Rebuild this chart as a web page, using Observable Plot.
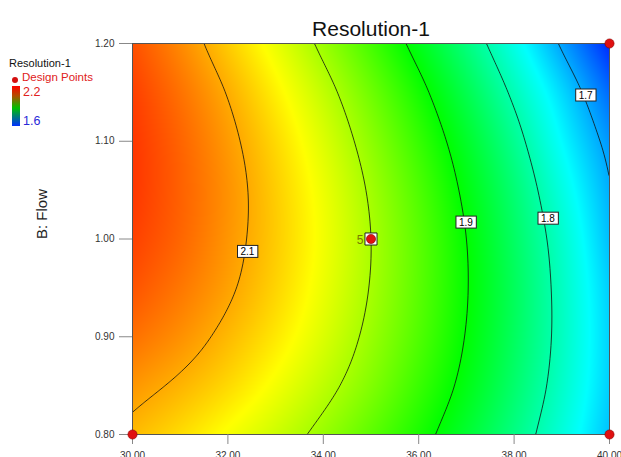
<!DOCTYPE html>
<html><head><meta charset="utf-8">
<script src="https://cdn.jsdelivr.net/npm/d3@7"></script>
<script src="https://cdn.jsdelivr.net/npm/@observablehq/plot@0.6"></script>
<style>
body{margin:0;background:#fff;font-family:"Liberation Sans",Arial,sans-serif;}
#wrap{position:relative;width:621px;height:457px;overflow:hidden;}
#chart{position:absolute;left:0;top:0;}
.abs{position:absolute;white-space:nowrap;line-height:1;}
</style></head><body>
<div id="wrap">
  <div id="chart"></div>
  <div class="abs" style="left:9px;top:58px;font-size:11px;color:#111;">Resolution-1</div>
  <div class="abs" style="left:12px;top:77px;width:6px;height:6px;border-radius:50%;background:#d41010;"></div>
  <div class="abs" style="left:22px;top:72px;font-size:11.5px;color:#e02020;">Design Points</div>
  <div class="abs" style="left:12px;top:86px;width:8px;height:40px;background:linear-gradient(to bottom,#ff0000,#b05000 25%,#00c000 55%,#0030ff);"></div>
  <div class="abs" style="left:23px;top:86px;font-size:12.5px;color:#e02020;">2.2</div>
  <div class="abs" style="left:23px;top:115px;font-size:12.5px;color:#2828d8;">1.6</div>
</div>
<script>
// A (x axis) levels and B: Flow levels of the read grid
const tempA = [30, 31, 32, 33, 34, 35, 36, 37, 38, 39, 40];
const flowB = [0.80, 0.85, 0.90, 0.95, 1.00, 1.05, 1.10, 1.15, 1.20];
// Resolution-1 estimated at each (flowB row, tempA column)
const resolution = [
  [2.090, 2.070, 2.046, 2.020, 1.989, 1.954, 1.915, 1.871, 1.823, 1.771, 1.714],
  [2.112, 2.094, 2.072, 2.044, 2.012, 1.976, 1.934, 1.888, 1.837, 1.782, 1.722],
  [2.134, 2.115, 2.091, 2.063, 2.029, 1.990, 1.947, 1.898, 1.845, 1.787, 1.724],
  [2.151, 2.130, 2.105, 2.075, 2.039, 1.998, 1.953, 1.902, 1.847, 1.786, 1.721],
  [2.162, 2.140, 2.112, 2.080, 2.043, 2.000, 1.953, 1.900, 1.842, 1.780, 1.712],
  [2.168, 2.143, 2.114, 2.079, 2.040, 1.995, 1.946, 1.891, 1.832, 1.767, 1.703],
  [2.168, 2.141, 2.109, 2.072, 2.030, 1.983, 1.932, 1.876, 1.815, 1.749, 1.688],
  [2.163, 2.133, 2.098, 2.058, 2.014, 1.965, 1.912, 1.854, 1.792, 1.728, 1.662],
  [2.153, 2.119, 2.080, 2.038, 1.991, 1.940, 1.885, 1.826, 1.763, 1.695, 1.624]
];
const contourLevels = [1.7, 1.8, 1.9, 2.0, 2.1];
const labelText = ["2.1", "1.9", "1.8", "1.7"];
const labelA = [32.41, 36.99, 38.71, 39.50];
const labelB = [0.987, 1.017, 1.021, 1.147];
const designA = [30, 40, 40];
const designB = [0.80, 0.80, 1.20];
const centerA = [35];
const centerB = [1.00];
const centerRuns = ["5"];
const xTicks = [30, 32, 34, 36, 38, 40];
const yTicks = [0.80, 0.90, 1.00, 1.10, 1.20];
const colorDomain = [1.6, 1.75, 1.9, 2.05, 2.2];
const colorRange = ["#0000ff", "#00ffff", "#00ff00", "#ffff00", "#ff0000"];
const titleText = "Resolution-1";
const yLabel = "B: Flow";

const grid = flowB.flatMap((b, i) => tempA.map((a, j) => ({A: a, B: b, R: resolution[i][j]})));
const labels = labelText.map((t, i) => ({t, A: labelA[i], B: labelB[i]}));
const design = designA.map((a, i) => ({A: a, B: designB[i]}));
const center = centerA.map((a, i) => ({A: a, B: centerB[i], n: centerRuns[i]}));
const bounds = {x1: 30, x2: 40, y1: 0.8, y2: 1.2};
const fmt = d3.format(".2f");

// Smooth (Catmull-Rom) interpolation of a regular sample grid, used as Plot's interpolate hook
function catmull(arr, t) {
  const n = arr.length;
  let k = Math.max(0, Math.min(n - 2, Math.floor(t)));
  const u = t - k;
  const p1 = arr[k], p2 = arr[k + 1];
  const p0 = k > 0 ? arr[k - 1] : 2 * p1 - p2;
  const p3 = k + 2 < n ? arr[k + 2] : 2 * p2 - p1;
  return 0.5 * (2 * p1 + (-p0 + p2) * u + (2 * p0 - 5 * p1 + 4 * p2 - p3) * u * u + (-p0 + 3 * p1 - 3 * p2 + p3) * u * u * u);
}
function gridInterpolate(index, w, h, X, Y, V) {
  const key = v => Math.round(v * 1000) / 1000;
  const xs = Array.from(new Set(Array.from(index, i => key(X[i])))).sort((a, b) => a - b);
  const ys = Array.from(new Set(Array.from(index, i => key(Y[i])))).sort((a, b) => a - b);
  const G = ys.map(() => new Array(xs.length).fill(NaN));
  for (const i of index) G[ys.indexOf(key(Y[i]))][xs.indexOf(key(X[i]))] = V[i];
  const dx = (xs[xs.length - 1] - xs[0]) / (xs.length - 1);
  const dy = (ys[ys.length - 1] - ys[0]) / (ys.length - 1);
  const out = new Float64Array(w * h);
  const col = new Array(ys.length);
  const rowVals = new Array(xs.length);
  for (let py = 0; py < h; ++py) {
    const ty = (py + 0.5 - ys[0]) / dy;
    for (let j = 0; j < xs.length; ++j) {
      for (let i = 0; i < ys.length; ++i) col[i] = G[i][j];
      rowVals[j] = catmull(col, ty);
    }
    for (let px = 0; px < w; ++px) {
      out[py * w + px] = catmull(rowVals, (px + 0.5 - xs[0]) / dx);
    }
  }
  return out;
}

const chart = Plot.plot({
  width: 621, height: 457,
  marginLeft: 132, marginRight: 12, marginTop: 43, marginBottom: 23,
  style: {fontFamily: "'Liberation Sans', Arial, sans-serif", fontSize: "10px", background: "white"},
  x: {domain: [30, 40]},
  y: {domain: [0.8, 1.2]},
  color: {type: "linear", domain: colorDomain, range: colorRange},
  marks: [
    Plot.raster(grid, {x: "A", y: "B", fill: "R", interpolate: gridInterpolate, pixelSize: 1, ...bounds}),
    Plot.contour(grid, {x: "A", y: "B", value: "R", interpolate: gridInterpolate, thresholds: contourLevels,
      fill: "none", stroke: "#111", strokeWidth: 0.8, pixelSize: 1, ...bounds}),
    Plot.frame({stroke: "#555"}),
    Plot.axisX({ticks: xTicks, tickFormat: fmt, tickSize: 10, tickPadding: 7, label: null, stroke: "#888", fill: "#333", fontSize: 10}),
    Plot.axisY({ticks: yTicks, tickFormat: fmt, tickSize: 13, tickPadding: 5, label: null, stroke: "#888", fill: "#333", fontSize: 10}),
    Plot.text(labels, {x: "A", y: "B", text: "t", fill: "black", fontSize: 10, ariaDescription: "contour-labels"}),
    Plot.dot(center, {x: "A", y: "B", symbol: "square", r: 6.8, fill: "white", stroke: "#222", strokeWidth: 1}),
    Plot.dot(design.concat(center), {x: "A", y: "B", r: 4.6, fill: "#e01010", stroke: "#8a0000", strokeWidth: 0.6}),
    Plot.text(center, {x: "A", y: "B", text: "n", dx: -11, dy: 1, fill: "#7a7a00", fontSize: 12}),
    Plot.text([titleText], {frameAnchor: "top", dy: -8, lineAnchor: "bottom", fontSize: 21, fill: "#111"}),
    Plot.text([yLabel], {frameAnchor: "left", dx: -90, rotate: -90, fontSize: 15, fill: "#222"})
  ]
});
document.getElementById("chart").appendChild(chart);
// white boxes behind contour labels
chart.querySelectorAll('g[aria-description="contour-labels"] text').forEach(t => {
  const bb = t.getBBox();
  const r = document.createElementNS("http://www.w3.org/2000/svg", "rect");
  r.setAttribute("x", bb.x - 3); r.setAttribute("y", bb.y - 0.5);
  r.setAttribute("width", bb.width + 6); r.setAttribute("height", bb.height + 1);
  r.setAttribute("fill", "white"); r.setAttribute("stroke", "#222"); r.setAttribute("stroke-width", "1");
  const tr = t.getAttribute("transform");
  if (tr) r.setAttribute("transform", tr);
  t.parentNode.insertBefore(r, t);
});
</script>
</body></html>
